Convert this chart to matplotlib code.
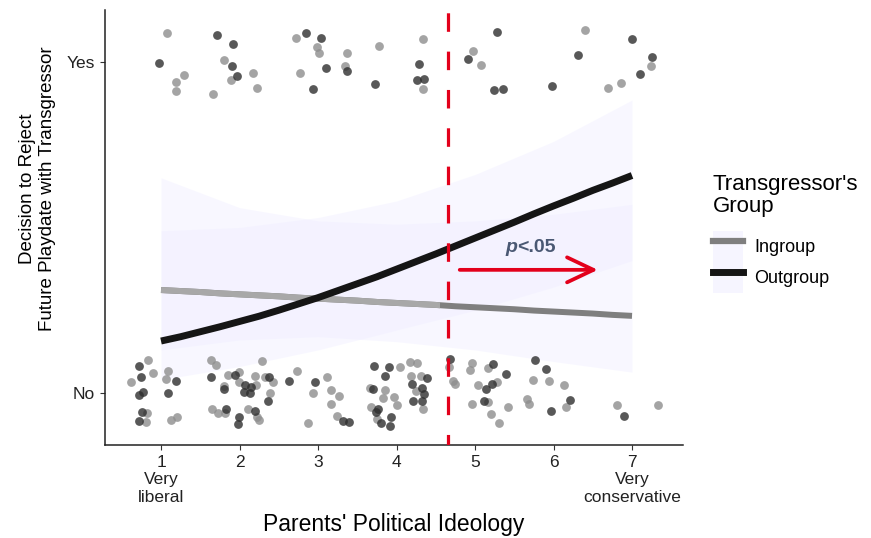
import numpy as np
import matplotlib
matplotlib.use("Agg")
import matplotlib.pyplot as plt
from matplotlib.lines import Line2D
from matplotlib.patches import Patch, Rectangle

plt.rcParams['font.family'] = ['Liberation Sans', 'DejaVu Sans']

# ---- data ----
# fitted curves (x = political ideology, y = probability of rejecting)
curve_x = [1, 1.25, 1.5, 1.75, 2, 2.25, 2.5, 2.75, 3, 3.25, 3.5, 3.75, 4,
           4.25, 4.5, 4.75, 5, 5.25, 5.5, 5.75, 6, 6.25, 6.5, 6.75, 7]
outgroup_fit = [0.157, 0.170, 0.185, 0.200, 0.216, 0.232, 0.250, 0.269, 0.288, 0.309, 0.330,
                0.351, 0.374, 0.397, 0.420, 0.444, 0.468, 0.492, 0.516, 0.541, 0.565, 0.588,
                0.612, 0.634, 0.657]
ingroup_fit = [0.311, 0.308, 0.305, 0.301, 0.298, 0.295, 0.292, 0.288, 0.285, 0.282, 0.279,
               0.275, 0.272, 0.269, 0.266, 0.262, 0.259, 0.256, 0.253, 0.249, 0.246, 0.243,
               0.240, 0.236, 0.233]

band_x = [1, 2, 3, 4, 5, 6, 7]
ingroup_lo = [0.13, 0.16, 0.17, 0.155, 0.13, 0.095, 0.063]
ingroup_hi = [0.65, 0.56, 0.52, 0.51, 0.52, 0.54, 0.57]
outgroup_lo = [0.04, 0.08, 0.13, 0.19, 0.25, 0.32, 0.40]
outgroup_hi = [0.49, 0.50, 0.53, 0.58, 0.66, 0.76, 0.885]

# jittered raw responses (1 = Yes, 0 = No)
ingroup_pts_x = [1.076, 1.803, 1.293, 1.191, 1.892, 2.172, 1.191, 1.662, 2.223, 2.720, 2.771,
                 2.987, 3.013, 3.369, 3.344, 3.777, 4.338, 4.338, 4.975, 5.076, 6.401, 7.242,
                 6.860, 6.694,
                 0.834, 0.898, 0.618, 1.089, 1.064, 0.822, 0.809, 1.127, 1.204, 1.637, 1.701,
                 1.854, 1.994, 1.994, 1.803, 2.197, 2.210, 2.325, 2.427, 2.389, 2.287, 2.732,
                 1.650, 1.726, 1.815, 2.108, 2.223, 2.248, 2.873, 3.115, 2.936, 3.166, 3.268,
                 3.166, 3.242, 4.045, 4.172, 4.261, 4.185, 4.312, 4.248, 4.338, 3.662, 3.854,
                 3.828, 3.968, 3.675, 4.006, 3.752, 4.669, 4.720, 4.745, 4.962, 4.936, 5.166,
                 5.038, 5.166, 4.962, 5.204, 5.306, 5.280, 5.420, 5.739, 5.943, 6.134, 5.662,
                 5.688, 6.159, 6.809, 7.331]
ingroup_pts_y = [1.088, 1.006, 0.961, 0.940, 0.946, 0.967, 0.912, 0.903, 0.921, 1.073, 0.967,
                 1.045, 1.027, 1.027, 0.988, 1.048, 1.069, 0.918, 1.033, 0.991, 1.097, 0.988,
                 0.937, 0.921,
                 0.100, 0.060, 0.033, 0.066, 0.042, -0.060, -0.088, -0.082, -0.073, 0.100, 0.085,
                 0.054, 0.063, 0.033, 0.021, 0.051, 0.024, 0.048, 0.033, 0.000, 0.097, 0.066,
                 -0.048, -0.060, -0.060, -0.048, -0.073, -0.082, -0.091, 0.048, 0.000, 0.009, -0.009,
                 -0.033, -0.069, 0.079, 0.094, 0.091, 0.051, 0.051, 0.006, -0.048, 0.015, 0.009,
                 -0.015, -0.012, -0.042, -0.036, -0.079, 0.079, 0.036, 0.027, 0.091, 0.069, 0.076,
                 0.024, -0.027, -0.033, -0.063, -0.091, 0.033, -0.042, 0.039, 0.036, 0.024, -0.018,
                 -0.033, -0.042, -0.036, -0.036]
outgroup_pts_x = [1.713, 1.917, 0.975, 1.904, 1.968, 2.847, 2.936, 3.038, 3.102, 3.369, 3.726,
                  4.287, 4.261, 4.350, 5.280, 4.911, 5.242, 5.357, 5.981, 6.312, 7.000, 7.255,
                  7.102,
                  0.720, 0.745, 0.771, 0.720, 1.191, 1.089, 0.758, 0.720, 1.637, 1.943, 2.070,
                  1.803, 2.146, 2.057, 2.134, 2.376, 2.363, 2.631, 1.828, 2.197, 1.994, 1.981,
                  2.962, 3.318, 3.395, 3.713, 3.904, 3.854, 4.389, 4.197, 4.325, 4.350, 4.210,
                  4.325, 3.701, 3.764, 3.739, 3.930, 3.803, 3.917, 4.682, 5.229, 5.140, 5.217,
                  5.115, 5.395, 5.764, 5.904, 6.210, 5.968, 6.898]
outgroup_pts_y = [1.082, 1.054, 0.997, 0.988, 0.958, 1.088, 0.918, 1.073, 0.982, 0.973, 0.934,
                  0.994, 0.946, 0.949, 1.091, 1.009, 0.915, 0.918, 0.927, 1.021, 1.069, 1.015,
                  0.964,
                  0.082, 0.048, 0.003, -0.006, 0.036, 0.000, -0.057, -0.085, 0.048, 0.054, 0.024,
                  0.012, 0.018, 0.003, 0.000, 0.048, -0.024, 0.036, -0.048, -0.054, -0.073, -0.094,
                  0.033, -0.085, -0.088, 0.082, 0.079, 0.051, 0.045, 0.027, 0.015, -0.003, -0.024,
                  -0.024, 0.012, -0.048, -0.057, -0.073, -0.091, -0.100, 0.103, 0.088, 0.012, 0.027,
                  -0.024, 0.057, 0.100, 0.073, -0.021, -0.054, -0.069]

tick_pos = [1, 2, 3, 4, 5, 6, 7]
tick_labels = ['1\nVery\nliberal', '2', '3', '4', '5', '6', '7\nVery\nconservative']
cutoff = 4.66          # Johnson-Neyman point
cutoff_label = 'p<.05'

band_color = '#eeecff'
red = '#e3001b'

fig = plt.figure(figsize=(8.71, 5.38), dpi=100)
ax = fig.add_axes([0.1206, 0.1729, 0.6636, 0.8086])

ax.fill_between(band_x, ingroup_lo, ingroup_hi, color=band_color, alpha=0.38, lw=0, zorder=1)
ax.fill_between(band_x, outgroup_lo, outgroup_hi, color=band_color, alpha=0.38, lw=0, zorder=1)

ax.scatter(ingroup_pts_x, ingroup_pts_y, s=40, color='#8e8e8e', alpha=0.8, lw=0, zorder=2)
ax.scatter(outgroup_pts_x, outgroup_pts_y, s=40, color='#2e2e2e', alpha=0.8, lw=0, zorder=2)

ax.plot(curve_x, ingroup_fit, color='#7f7f7f', lw=4.3, solid_capstyle='butt', zorder=3)
light, = ax.plot(curve_x, ingroup_fit, color='#a8a8a8', lw=4.3, solid_capstyle='butt', zorder=3)
light.set_clip_path(Rectangle((0, -1), 4.55, 3, transform=ax.transData))
ax.plot(curve_x, outgroup_fit, color='#151515', lw=5, solid_capstyle='butt', zorder=4)

ax.axvline(cutoff, color=red, lw=2.3, linestyle=(2.5, (5.8, 6.2)), zorder=5)
ax.annotate('', xy=(6.6, 0.372), xytext=(4.77, 0.372),
            arrowprops=dict(arrowstyle='->,head_length=1.9,head_width=0.9', color=red, lw=2.7),
            zorder=6)
ax.text(5.54, 0.44, cutoff_label[0], color='#4a5873', fontsize=14, fontweight='bold',
        style='italic', ha='right', va='center')
ax.text(5.54, 0.44, cutoff_label[1:], color='#4a5873', fontsize=14, fontweight='bold',
        ha='left', va='center')

ax.set_xlim(0.287, 7.65)
ax.set_ylim(-0.157, 1.157)
ax.set_xticks(tick_pos)
ax.set_xticklabels(tick_labels, fontsize=12.5, linespacing=1.2)
ax.set_yticks([0, 1])
ax.set_yticklabels(['No', 'Yes'], fontsize=12.5)
ax.tick_params(length=3.5, width=0.8, colors='#333333', labelcolor='#222222')
for s in ['top', 'right']:
    ax.spines[s].set_visible(False)
for s in ['left', 'bottom']:
    ax.spines[s].set_linewidth(1.1)
    ax.spines[s].set_color('#222222')

ax.set_xlabel("Parents' Political Ideology", fontsize=16.5, labelpad=6)
ax.set_ylabel('Decision to Reject\nFuture Playdate with Transgressor', fontsize=13.5,
              linespacing=1.25)
ax.yaxis.set_label_coords(-0.085, 0.59)

key_bg = '#f6f5ff'
handles = [(Patch(facecolor=key_bg, edgecolor='none'), Line2D([], [], color='#7f7f7f', lw=4.5)),
           (Patch(facecolor=key_bg, edgecolor='none'), Line2D([], [], color='#151515', lw=5))]
leg = fig.legend(handles, ['Ingroup', 'Outgroup'], title="Transgressor's\nGroup",
                 loc='upper left', bbox_to_anchor=(0.81, 0.69), frameon=False,
                 fontsize=13, title_fontsize=16, handlelength=1.7, handleheight=2.26,
                 labelspacing=0.0, handletextpad=0.6, borderaxespad=0)
leg._legend_box.align = 'left'
leg._legend_box.sep = 10
leg.get_title().set_linespacing(1.05)

fig.savefig('out.png', dpi=100)
